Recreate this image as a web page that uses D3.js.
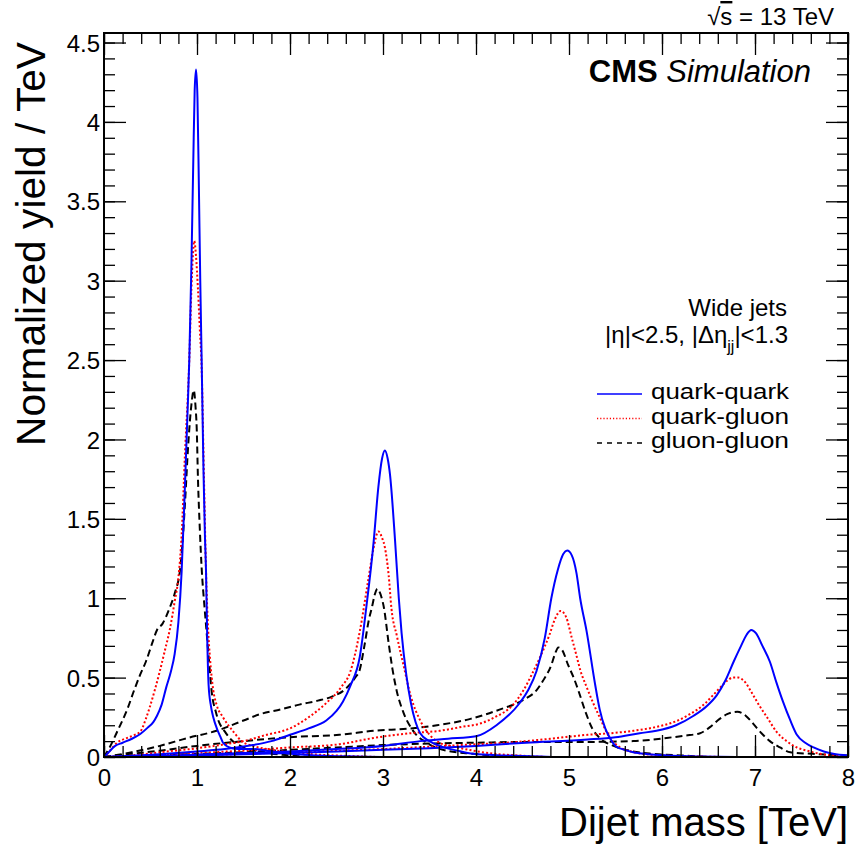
<!DOCTYPE html>
<html>
<head>
<meta charset="utf-8">
<script src="https://cdn.jsdelivr.net/npm/d3@7"></script>
<style>
  body { margin: 0; background: #fff; }
  svg { display: block; }
  text { font-family: "Liberation Sans", Arial, Helvetica, sans-serif; fill: #000; }
  .axis path { display: none; }
  .axis line { stroke: #000; stroke-width: 1.3; }
</style>
</head>
<body>
<svg width="856" height="847"></svg>
<script>
// resonance shapes, [dijet mass in TeV, normalized yield per TeV]
var qq1 = [[0,0],[0.05,0.03],[0.12,0.07],[0.2,0.09],[0.3,0.115],[0.39,0.145],[0.47,0.185],[0.53,0.22],[0.57,0.26],[0.62,0.33],[0.67,0.44],[0.72,0.54],[0.76,0.65],[0.8,0.85],[0.835,1.17],[0.87,1.7],[0.9,2.2],[0.917,2.5],[0.94,3.1],[0.96,3.75],[0.975,4.2],[0.99,4.33],[1.005,4.15],[1.02,3.6],[1.035,3.0],[1.05,2.5],[1.07,1.8],[1.085,1.4],[1.097,1.17],[1.11,0.75],[1.125,0.45],[1.15,0.32],[1.175,0.25],[1.22,0.17],[1.25,0.13],[1.28,0.09],[1.35,0.06],[1.45,0.05],[1.6,0.05],[1.75,0.04],[2.0,0.02],[2.3,0.01],[2.6,0.004],[3.0,0],[8,0]];
var qg1 = [[0,0],[0.05,0.03],[0.14,0.09],[0.25,0.12],[0.33,0.14],[0.39,0.16],[0.45,0.24],[0.49,0.31],[0.55,0.43],[0.6,0.54],[0.65,0.66],[0.71,0.81],[0.76,0.98],[0.8,1.13],[0.835,1.4],[0.87,1.9],[0.917,2.5],[0.94,2.95],[0.955,3.15],[0.97,3.25],[0.99,3.15],[1.01,2.95],[1.03,2.7],[1.05,2.45],[1.075,1.75],[1.097,1.17],[1.12,0.8],[1.14,0.62],[1.175,0.42],[1.21,0.33],[1.28,0.25],[1.39,0.16],[1.48,0.10],[1.6,0.07],[1.75,0.05],[2.0,0.03],[2.3,0.015],[2.7,0.005],[3.0,0],[8,0]];
var gg1 = [[0,0],[0.06,0.06],[0.15,0.17],[0.25,0.3],[0.33,0.43],[0.39,0.52],[0.45,0.6],[0.52,0.72],[0.57,0.8],[0.63,0.84],[0.7,0.93],[0.76,1.03],[0.82,1.19],[0.85,1.4],[0.87,1.59],[0.906,1.97],[0.94,2.22],[0.965,2.31],[0.985,2.2],[0.997,2.07],[1.01,1.76],[1.03,1.44],[1.05,1.19],[1.08,0.95],[1.1,0.81],[1.13,0.6],[1.16,0.4],[1.2,0.29],[1.23,0.23],[1.3,0.16],[1.35,0.12],[1.5,0.06],[1.7,0.03],[2.0,0.01],[2.3,0],[8,0]];

var qq3 = [[0,0],[0.3,0.008],[0.6,0.018],[1.0,0.035],[1.3,0.05],[1.6,0.075],[1.8,0.1],[2.0,0.14],[2.2,0.18],[2.39,0.23],[2.5,0.29],[2.57,0.35],[2.65,0.45],[2.75,0.63],[2.82,0.94],[2.9,1.36],[2.95,1.7],[2.99,1.88],[3.02,1.93],[3.05,1.88],[3.075,1.78],[3.13,1.36],[3.17,1.0],[3.2,0.78],[3.25,0.52],[3.3,0.34],[3.35,0.22],[3.4,0.15],[3.5,0.1],[3.61,0.07],[3.8,0.04],[3.97,0.02],[4.3,0.01],[4.7,0.003],[5.0,0],[8,0]];
var qg3 = [[0,0],[0.3,0.01],[0.6,0.03],[1.0,0.055],[1.3,0.08],[1.5,0.1],[1.75,0.14],[2.0,0.18],[2.2,0.25],[2.39,0.34],[2.55,0.44],[2.65,0.54],[2.75,0.79],[2.84,1.11],[2.9,1.32],[2.95,1.42],[2.99,1.38],[3.02,1.32],[3.06,1.15],[3.09,0.94],[3.15,0.76],[3.22,0.58],[3.3,0.38],[3.4,0.23],[3.5,0.14],[3.61,0.09],[3.8,0.06],[3.97,0.04],[4.2,0.02],[4.44,0.01],[4.8,0],[8,0]];
var gg3 = [[0,0],[0.3,0.03],[0.6,0.07],[0.9,0.12],[1.21,0.165],[1.5,0.23],[1.68,0.27],[1.9,0.3],[2.1,0.33],[2.3,0.355],[2.45,0.38],[2.6,0.43],[2.7,0.5],[2.75,0.55],[2.8,0.7],[2.85,0.87],[2.88,0.94],[2.91,1.02],[2.94,1.06],[2.97,1.03],[3.01,0.94],[3.06,0.72],[3.1,0.56],[3.15,0.41],[3.22,0.28],[3.33,0.16],[3.47,0.09],[3.68,0.04],[3.97,0.02],[4.3,0.005],[4.6,0],[8,0]];

var qq5 = [[0,0],[0.5,0.005],[1.0,0.015],[1.5,0.025],[2.0,0.035],[2.5,0.05],[3.0,0.07],[3.4,0.1],[3.7,0.115],[4.0,0.13],[4.22,0.2],[4.47,0.34],[4.56,0.42],[4.65,0.54],[4.74,0.75],[4.81,1.0],[4.88,1.18],[4.94,1.28],[4.98,1.3],[5.03,1.27],[5.08,1.16],[5.12,1.0],[5.19,0.79],[5.28,0.46],[5.33,0.3],[5.39,0.18],[5.44,0.12],[5.5,0.07],[5.6,0.045],[5.69,0.03],[5.85,0.018],[6.05,0.01],[6.4,0.003],[6.8,0],[8,0]];
var qg5 = [[0,0],[0.5,0.01],[1.0,0.025],[1.5,0.04],[2.0,0.06],[2.53,0.08],[2.9,0.12],[3.3,0.15],[3.61,0.165],[3.85,0.19],[4.04,0.21],[4.2,0.25],[4.4,0.33],[4.51,0.42],[4.6,0.52],[4.69,0.63],[4.79,0.77],[4.85,0.87],[4.91,0.92],[4.97,0.88],[5.03,0.75],[5.08,0.64],[5.12,0.55],[5.19,0.44],[5.26,0.34],[5.33,0.25],[5.44,0.12],[5.55,0.06],[5.7,0.03],[6.0,0.01],[6.4,0.003],[6.8,0],[8,0]];
var gg5 = [[0,0],[0.3,0.02],[0.6,0.04],[1.0,0.07],[1.5,0.1],[2.0,0.125],[2.53,0.14],[2.9,0.165],[3.3,0.18],[3.58,0.2],[3.94,0.24],[4.26,0.3],[4.51,0.36],[4.65,0.42],[4.72,0.48],[4.81,0.58],[4.85,0.65],[4.885,0.69],[4.93,0.67],[4.99,0.58],[5.05,0.5],[5.1,0.42],[5.18,0.28],[5.25,0.18],[5.33,0.12],[5.48,0.07],[5.65,0.04],[5.9,0.02],[6.2,0.01],[6.6,0],[8,0]];

var qq7 = [[0,0],[0.5,0.004],[1.0,0.01],[2.0,0.025],[2.5,0.035],[3.0,0.045],[3.5,0.055],[4.0,0.07],[4.54,0.09],[5.2,0.11],[5.5,0.125],[5.76,0.15],[5.94,0.165],[6.15,0.2],[6.34,0.26],[6.48,0.32],[6.59,0.39],[6.68,0.48],[6.77,0.6],[6.85,0.7],[6.91,0.77],[6.96,0.8],[7.01,0.78],[7.08,0.7],[7.16,0.6],[7.23,0.47],[7.3,0.35],[7.38,0.23],[7.45,0.14],[7.54,0.09],[7.63,0.06],[7.74,0.035],[7.84,0.02],[8,0.01]];
var qg7 = [[0,0],[1.0,0.01],[2.0,0.03],[3.0,0.05],[3.5,0.065],[4.0,0.08],[4.33,0.09],[4.8,0.115],[5.2,0.14],[5.45,0.15],[5.69,0.165],[5.98,0.195],[6.15,0.225],[6.3,0.27],[6.45,0.33],[6.55,0.39],[6.63,0.44],[6.7,0.48],[6.76,0.5],[6.82,0.5],[6.88,0.48],[6.98,0.39],[7.05,0.32],[7.13,0.25],[7.23,0.16],[7.34,0.1],[7.45,0.06],[7.56,0.04],[7.7,0.02],[7.84,0.01],[8,0.005]];
var gg7 = [[0,0],[0.5,0.01],[1.0,0.02],[1.5,0.03],[2.0,0.045],[2.5,0.06],[3.0,0.075],[3.5,0.085],[4.0,0.09],[4.5,0.095],[5.2,0.095],[5.69,0.1],[6.05,0.12],[6.25,0.135],[6.41,0.15],[6.52,0.19],[6.62,0.24],[6.7,0.27],[6.81,0.285],[6.9,0.26],[6.98,0.21],[7.07,0.15],[7.16,0.1],[7.27,0.06],[7.38,0.03],[7.62,0.02],[8,0.01]];

var categories = ['quark-quark', 'quark-gluon', 'gluon-gluon'];
var xTicks = [0, 1, 2, 3, 4, 5, 6, 7, 8];
var yTicks = [0, 0.5, 1, 1.5, 2, 2.5, 3, 3.5, 4, 4.5];

var styles = {
  'quark-quark': {color: '#0000ff', dash: null, legendDash: null},
  'quark-gluon': {color: '#ff0000', dash: '2,2.2', legendDash: '1.2,2'},
  'gluon-gluon': {color: '#000000', dash: '7,4', legendDash: '5,5'}
};
var curves = [
  {type: 'gluon-gluon', pts: gg1}, {type: 'gluon-gluon', pts: gg3}, {type: 'gluon-gluon', pts: gg5}, {type: 'gluon-gluon', pts: gg7},
  {type: 'quark-gluon', pts: qg1}, {type: 'quark-gluon', pts: qg3}, {type: 'quark-gluon', pts: qg5}, {type: 'quark-gluon', pts: qg7},
  {type: 'quark-quark', pts: qq1}, {type: 'quark-quark', pts: qq3}, {type: 'quark-quark', pts: qq5}, {type: 'quark-quark', pts: qq7}
];

var svg = d3.select('svg');
var margin = {top: 33, right: 8, bottom: 90, left: 104}
  , width = 856 - margin.left - margin.right
  , height = 847 - margin.top - margin.bottom;

var x = d3.scaleLinear().domain([0, 8]).range([0, width]);
var y = d3.scaleLinear().domain([0, 4.56]).range([height, 0]);

var g = svg.append('g')
    .attr('transform', 'translate(' + margin.left + ',' + margin.top + ')');

g.append('clipPath').attr('id', 'plotclip')
  .append('rect').attr('width', width).attr('height', height);

// curves
var line = d3.line()
    .x(function(d) { return x(d[0]); })
    .y(function(d) { return y(d[1]); })
    .curve(d3.curveMonotoneX);

g.append('g').attr('clip-path', 'url(#plotclip)')
  .selectAll('path.curve')
  .data(curves)
  .enter().append('path')
    .attr('class', 'curve')
    .attr('d', function(d) { return line(d.pts); })
    .attr('fill', 'none')
    .attr('stroke', function(d) { return styles[d.type].color; })
    .attr('stroke-width', 2)
    .attr('stroke-dasharray', function(d) { return styles[d.type].dash; });

// axes: ticks drawn inside the frame on all four sides
var xMinor = d3.range(0, 8.001, 0.2).map(function(v) { return +v.toFixed(1); });
var yMinor = d3.range(0, 4.56, 0.1).map(function(v) { return +v.toFixed(1); });

function addAxis(axis, tr) {
  return g.append('g').attr('class', 'axis').attr('transform', tr).call(axis);
}
addAxis(d3.axisBottom(x).tickValues(xMinor).tickSize(-11).tickFormat(''), 'translate(0,' + height + ')');
addAxis(d3.axisTop(x).tickValues(xMinor).tickSize(-11).tickFormat(''), 'translate(0,0)');
addAxis(d3.axisTop(x).tickValues(xTicks).tickSize(-22).tickFormat(''), 'translate(0,0)');
addAxis(d3.axisLeft(y).tickValues(yMinor).tickSize(-11).tickFormat(''), 'translate(0,0)');
addAxis(d3.axisRight(y).tickValues(yMinor).tickSize(-11).tickFormat(''), 'translate(' + width + ',0)');
addAxis(d3.axisRight(y).tickValues(yTicks).tickSize(-22).tickFormat(''), 'translate(' + width + ',0)');

var xAxis = addAxis(d3.axisBottom(x).tickValues(xTicks).tickSize(-22).tickFormat(d3.format('d')), 'translate(0,' + height + ')');
xAxis.selectAll('text')
    .attr('y', 29).attr('dy', null)
    .style('font-size', '24px').style('font-family', '"Liberation Sans", Arial, sans-serif');

var yAxis = addAxis(d3.axisLeft(y).tickValues(yTicks).tickSize(-22).tickFormat(function(d) { return String(d); }), 'translate(0,0)');
yAxis.selectAll('text')
    .attr('x', -4).attr('dy', '0.36em')
    .style('font-size', '24px').style('font-family', '"Liberation Sans", Arial, sans-serif');

// frame
g.append('rect')
    .attr('width', width).attr('height', height)
    .attr('fill', 'none').attr('stroke', '#000').attr('stroke-width', 2);

// axis titles
svg.append('text')
    .text('Dijet mass [TeV]')
    .attr('x', 848).attr('y', 836)
    .attr('text-anchor', 'end')
    .style('font-size', '40px');

svg.append('text')
    .text('Normalized yield / TeV')
    .attr('transform', 'translate(45,42) rotate(-90)')
    .attr('text-anchor', 'end')
    .attr('textLength', 404)
    .attr('lengthAdjust', 'spacingAndGlyphs')
    .style('font-size', '40px');

// labels
var energy = svg.append('text')
    .attr('x', 834).attr('y', 25)
    .attr('text-anchor', 'end')
    .style('font-size', '24px');
energy.append('tspan').text('\u221A');
energy.append('tspan').text('s').style('text-decoration', 'overline');
energy.append('tspan').text(' = 13 TeV');

var cms = svg.append('text')
    .attr('x', 811).attr('y', 82)
    .attr('text-anchor', 'end')
    .style('font-size', '31px');
cms.append('tspan').text('CMS').style('font-weight', 'bold');
cms.append('tspan').text(' Simulation').style('font-style', 'italic');

svg.append('text')
    .text('Wide jets')
    .attr('x', 787).attr('y', 316)
    .attr('text-anchor', 'end')
    .style('font-size', '24px');

var cut = svg.append('text')
    .attr('x', 788).attr('y', 343)
    .attr('text-anchor', 'end')
    .style('font-size', '24px');
cut.append('tspan').text('|\u03B7|<2.5, |\u0394\u03B7');
cut.append('tspan').text('jj').attr('dy', 9).style('font-size', '16px');
cut.append('tspan').text('|<1.3').attr('dy', -9);

// legend
var legend = svg.append('g').selectAll('g')
    .data(categories)
  .enter().append('g')
    .attr('transform', function(d, i) { return 'translate(597,' + (394 + i * 24.5) + ')'; });

legend.append('line')
    .attr('x1', 0).attr('x2', 45)
    .attr('stroke', function(d) { return styles[d].color; })
    .attr('stroke-width', function(d) { return d === 'quark-quark' ? 1.6 : 1.3; })
    .attr('stroke-dasharray', function(d) { return styles[d].legendDash; });

legend.append('text')
    .text(function(d) { return d; })
    .attr('x', 54).attr('y', 5)
    .attr('textLength', 138)
    .attr('lengthAdjust', 'spacingAndGlyphs')
    .style('font-size', '21.5px');
</script>
</body>
</html>
